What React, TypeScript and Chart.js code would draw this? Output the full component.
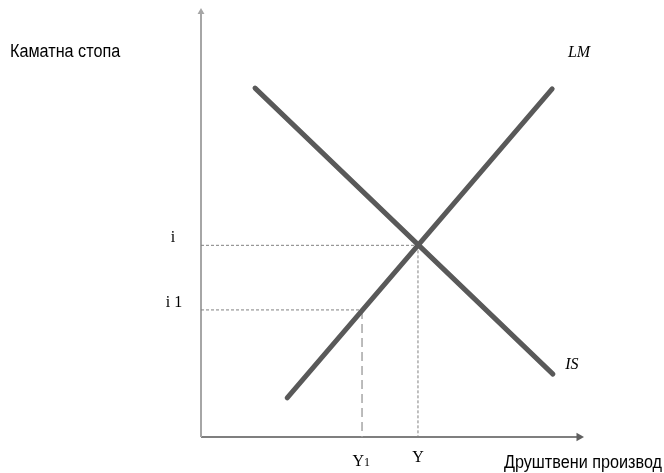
import React, { useEffect, useRef } from "react";
import { Chart, registerables } from "chart.js";

Chart.register(...registerables);

// IS-LM diagram values (output on x, interest rate on y)
const isCurve = [
  { x: 1.43, y: 8.21 },
  { x: 9.31, y: 1.48 },
];
const lmCurve = [
  { x: 2.28, y: 0.92 },
  { x: 9.29, y: 8.19 },
];
const equilibrium = { x: 5.74, y: 4.51 };
const lowerPoint = { x: 4.26, y: 2.99 };
const axisMax = { x: 10, y: 10 };
const yAxisLabel = "Каматна стопа";
const xAxisLabel = "Друштвени производ";
const rateLabels = ["i", "i 1"];
const outputLabels = ["Y", "Y1"];
const curveLabels = ["LM", "IS"];

function sansText(ctx: any, text: string, x: number, y: number, align: "left" | "right") {
  ctx.save();
  ctx.font = "18px 'Liberation Sans'";
  ctx.textBaseline = "middle";
  ctx.textAlign = "left";
  const sx = 0.9;
  const w = ctx.measureText(text).width * sx;
  const startX = align === "left" ? x : x - w;
  ctx.translate(startX, y);
  ctx.scale(sx, 1);
  ctx.fillText(text, 0, 0);
  ctx.restore();
}

const labelPlugin = {
  id: "labels",
  afterDraw(chart: any) {
    const ctx = chart.ctx;
    const xs = chart.scales.x;
    const ys = chart.scales.y;
    ctx.save();
    ctx.fillStyle = "#000";
    ctx.textBaseline = "middle";

    const base = ys.getPixelForValue(0);

    // axis titles
    sansText(ctx, yAxisLabel, 10, ys.getPixelForValue(9.06), "left");
    sansText(ctx, xAxisLabel, chart.width - 2, base + 26, "right");

    // curve labels
    ctx.font = "italic 16px 'Liberation Serif'";
    ctx.textAlign = "center";
    ctx.fillText(curveLabels[0], xs.getPixelForValue(10.0), ys.getPixelForValue(9.04));
    ctx.fillText(curveLabels[1], xs.getPixelForValue(9.81), ys.getPixelForValue(1.69));

    // rate labels
    ctx.font = "16px 'Liberation Serif'";
    ctx.textAlign = "center";
    ctx.fillText(rateLabels[0], 173, ys.getPixelForValue(equilibrium.y) - 8);
    ctx.fillText(rateLabels[1], 174, ys.getPixelForValue(lowerPoint.y) - 7);

    // output labels
    ctx.fillText(outputLabels[0], xs.getPixelForValue(equilibrium.x), base + 21);
    const y1x = xs.getPixelForValue(lowerPoint.x);
    ctx.textAlign = "right";
    ctx.fillText(outputLabels[1].slice(0, 1), y1x + 2, base + 25);
    ctx.font = "12px 'Liberation Serif'";
    ctx.textAlign = "left";
    ctx.fillText(outputLabels[1].slice(1), y1x + 2, base + 26);
    ctx.restore();
  },
};

export default function App() {
  const ref = useRef<HTMLCanvasElement | null>(null);

  useEffect(() => {
    if (!ref.current) return;
    const thin = { pointRadius: 0, borderWidth: 1, showLine: true, clip: false as any };
    const chart = new Chart(ref.current, {
      type: "scatter",
      data: {
        datasets: [
          {
            data: isCurve,
            borderColor: "#595959",
            borderWidth: 5,
            borderCapStyle: "round",
            pointRadius: 0,
            showLine: true,
            order: 0,
            clip: false as any,
          },
          {
            data: lmCurve,
            borderColor: "#595959",
            borderWidth: 5,
            borderCapStyle: "round",
            pointRadius: 0,
            showLine: true,
            order: 0,
            clip: false as any,
          },
          {
            data: [{ x: 0, y: 0 }, { x: 0, y: axisMax.y }],
            borderColor: "#a6a6a6",
            backgroundColor: "#a6a6a6",
            borderWidth: 2,
            pointStyle: "triangle",
            pointRadius: [0, 4],
            pointBorderWidth: 0,
            rotation: 0,
            showLine: true,
            order: 2,
            clip: false as any,
          },
          {
            data: [{ x: 0, y: 0 }, { x: axisMax.x, y: 0 }],
            borderColor: "#7f7f7f",
            backgroundColor: "#5f5f5f",
            borderWidth: 2,
            pointStyle: "triangle",
            pointRadius: [0, 5],
            pointBorderWidth: 0,
            rotation: 90,
            showLine: true,
            order: 2,
            clip: false as any,
          },
          {
            ...thin,
            data: [{ x: 0, y: equilibrium.y }, { x: equilibrium.x, y: equilibrium.y }],
            borderColor: "#808080",
            borderDash: [3, 2],
            order: 1,
          },
          {
            ...thin,
            data: [{ x: equilibrium.x, y: equilibrium.y }, { x: equilibrium.x, y: 0 }],
            borderColor: "#808080",
            borderDash: [3, 2],
            order: 1,
          },
          {
            ...thin,
            data: [{ x: 0, y: lowerPoint.y }, { x: lowerPoint.x, y: lowerPoint.y }],
            borderColor: "#808080",
            borderDash: [3, 2],
            order: 1,
          },
          {
            ...thin,
            data: [{ x: lowerPoint.x, y: lowerPoint.y }, { x: lowerPoint.x, y: 0 }],
            borderColor: "#a6a6a6",
            borderWidth: 1.5,
            borderDash: [9, 5],
            order: 1,
          },
        ] as any,
      },
      options: {
        responsive: false,
        animation: false,
        devicePixelRatio: 1,
        layout: { padding: { left: 201, right: 85, top: 12, bottom: 36 } },
        plugins: { legend: { display: false }, tooltip: { enabled: false } },
        scales: {
          x: { type: "linear", min: 0, max: axisMax.x, display: false },
          y: { type: "linear", min: 0, max: axisMax.y, display: false },
        },
      },
      plugins: [labelPlugin],
    });
    return () => chart.destroy();
  }, []);

  return (
    <div style={{ position: "fixed", left: 0, top: 0, width: 664, height: 473, background: "#fff" }}>
      <canvas ref={ref} width={664} height={473} />
    </div>
  );
}
